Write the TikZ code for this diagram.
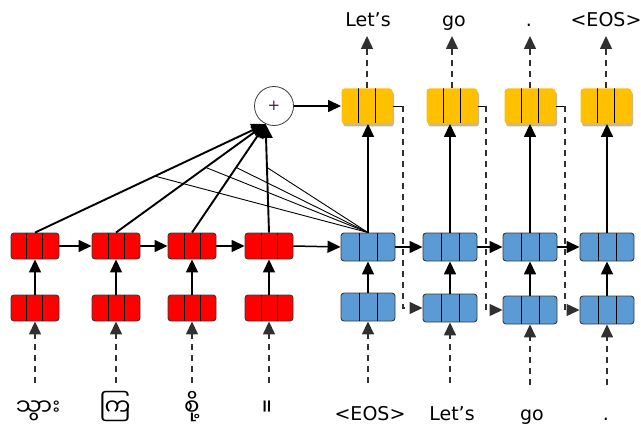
\documentclass[tikz,border=0pt]{standalone}
\usepackage{fontspec}
\setmainfont{DejaVu Sans}
\newfontfamily\myafont[Script=Myanmar]{Noto Sans Myanmar UI}
\usetikzlibrary{arrows.meta,calc,shadows}
\definecolor{boxred}{HTML}{FF0000}
\definecolor{boxblue}{HTML}{5B9BD5}
\definecolor{boxyel}{HTML}{FFC000}
\definecolor{shadowtan}{HTML}{C9B98C}
\definecolor{edgegray}{HTML}{3A3A3A}
\definecolor{dashgray}{HTML}{303030}
\definecolor{plusc}{HTML}{4A1A4A}
\tikzset{
  cellbox/.style={rounded corners=3pt, draw=edgegray, line width=0.9pt, inner sep=0pt,
    path picture={
      \draw[black,line width=1pt]
        ($(path picture bounding box.north west)!1/3!(path picture bounding box.north east)$) --
        ($(path picture bounding box.south west)!1/3!(path picture bounding box.south east)$);
      \draw[black,line width=1pt]
        ($(path picture bounding box.north west)!2/3!(path picture bounding box.north east)$) --
        ($(path picture bounding box.south west)!2/3!(path picture bounding box.south east)$);}},
  redbox/.style={cellbox, fill=boxred, minimum width=48pt, minimum height=26pt},
  bluebox/.style={cellbox, fill=boxblue, minimum width=54pt, minimum height=28pt},
  yelbox/.style={cellbox, draw=none, fill=boxyel, minimum width=51pt, minimum height=35pt,
    drop shadow={shadow xshift=1.5pt, shadow yshift=-3pt, fill=shadowtan, opacity=1}},
  arr/.style={-{Triangle[length=13pt,width=12pt]}, line width=1.5pt, draw=black},
  dasharr/.style={arr, dash pattern=on 6pt off 5pt, draw=dashgray},
  attline/.style={-{Triangle[length=14pt,width=13pt]}, line width=1.9pt},
  thinline/.style={line width=0.9pt},
  lab/.style={font=\fontsize{19}{19}\selectfont, anchor=base, inner sep=0pt},
  mlab/.style={font=\myafont\fontsize{23}{23}\selectfont, anchor=base, inner sep=0pt},
}
\begin{document}
\begin{tikzpicture}[x=1pt,y=-1pt]
\useasboundingbox (0,0) rectangle (641,428);
% encoder boxes
\node[redbox] (r1t) at (35,246) {};
\node[redbox] (r2t) at (116,246) {};
\node[redbox] (r3t) at (192,246) {};
\node[redbox] (r4t) at (269,246) {};
\node[redbox] (r1b) at (35,308) {};
\node[redbox] (r2b) at (116,308) {};
\node[redbox] (r3b) at (192,308) {};
\node[redbox] (r4b) at (269,308) {};
% decoder boxes
\node[bluebox] (b1t) at (368,247) {};
\node[bluebox] (b2t) at (450,247) {};
\node[bluebox] (b3t) at (530,247) {};
\node[bluebox] (b4t) at (607,247) {};
\node[bluebox] (b1b) at (368,307) {};
\node[bluebox] (b2b) at (450,308) {};
\node[bluebox] (b3b) at (530,310) {};
\node[bluebox] (b4b) at (607,310) {};
% output boxes
\node[yelbox] (y1) at (367,106) {};
\node[yelbox] (y2) at (452,106) {};
\node[yelbox] (y3) at (530,106) {};
\node[yelbox] (y4) at (606,106) {};
% attention sum
\node[circle, draw=edgegray, line width=0.8pt, minimum size=39pt, inner sep=0pt,
      font=\fontsize{15}{15}\selectfont, text=plusc] (att) at (274,106) {+};
\coordinate (P) at (att.245);
% output labels
\node[lab] (o1) at (368,27) {Let’s};
\node[lab] (o2) at (454,27) {go};
\node[lab] (o3) at (529,27) {.};
\node[lab] (o4) at (606,27) {<EOS>};
\coordinate (ot1) at (367,36);
\coordinate (ot2) at (452,36);
\coordinate (ot3) at (530,36);
\coordinate (ot4) at (606,36);
% input labels
\node[mlab] (i1) at (38,415) {သွား};
\node[mlab] (i2) at (115,415) {ကြ};
\node[mlab] (i3) at (192,415) {စို့};
\node[mlab] (i4) at (267,415) {။};
\node[lab] (i5) at (370,420) {<EOS>};
\node[lab] (i6) at (452,420) {Let’s};
\node[lab] (i7) at (532,420) {go};
\node[lab] (i8) at (606,420) {.};
\coordinate (it1) at (35,383);
\coordinate (it2) at (116,383);
\coordinate (it3) at (192,383);
\coordinate (it4) at (269,383);
\coordinate (it5) at (368,383);
\coordinate (it6) at (450,383);
\coordinate (it7) at (530,385);
\coordinate (it8) at (607,385);
% input dashed arrows
\draw[dasharr] (it1) -- (r1b.south);
\draw[dasharr] (it2) -- (r2b.south);
\draw[dasharr] (it3) -- (r3b.south);
\draw[dasharr] (it4) -- (r4b.south);
\draw[dasharr] (it5) -- (b1b.south);
\draw[dasharr] (it6) -- (b2b.south);
\draw[dasharr] (it7) -- (b3b.south);
\draw[dasharr] (it8) -- (b4b.south);
% vertical solid arrows
\draw[arr] (r1b.north) -- (r1t.south);
\draw[arr] (r2b.north) -- (r2t.south);
\draw[arr] (r3b.north) -- (r3t.south);
\draw[arr] (r4b.north) -- (r4t.south);
\draw[arr] (b1b.north) -- (b1t.south);
\draw[arr] (b2b.north) -- (b2t.south);
\draw[arr] (b3b.north) -- (b3t.south);
\draw[arr] (b4b.north) -- (b4t.south);
\draw[arr] (b1t.north) -- (b1t.north |- y1.south);
\draw[arr] (b2t.north) -- (b2t.north |- y2.south);
\draw[arr] (b3t.north) -- (b3t.north |- y3.south);
\draw[arr] (b4t.north) -- (b4t.north |- y4.south);
% horizontal arrows
\draw[arr] (r1t.east) -- (r2t.west);
\draw[arr] (r2t.east) -- (r3t.west);
\draw[arr] (r3t.east) -- (r4t.west);
\draw[arr] (r4t.east) -- (b1t.west);
\draw[arr] (b1t.east) -- (b2t.west);
\draw[arr] (b2t.east) -- (b3t.west);
\draw[arr] (b3t.east) -- (b4t.west);
\draw[arr] (att.east) -- (y1.west);
% output dashed arrows
\draw[dasharr] (y1.north) -- (ot1);
\draw[dasharr] (y2.north) -- (ot2);
\draw[dasharr] (y3.north) -- (ot3);
\draw[dasharr] (y4.north) -- (ot4);
% feedback connectors
\coordinate (c1) at (403,106);
\coordinate (c2) at (486,106);
\coordinate (c3) at (565,106);
\draw[thinline] (y1.east) -- (c1);
\draw[thinline] (y2.east) -- (c2);
\draw[thinline] (y3.east) -- (c3);
\draw[dasharr, line width=1.2pt, dash pattern=on 6pt off 5pt] (c1) |- (b2b.west);
\draw[dasharr, line width=1.2pt, dash pattern=on 6pt off 5pt] (c2) |- (b3b.west);
\draw[dasharr, line width=1.2pt, dash pattern=on 6pt off 5pt] (c3) |- (b4b.west);
% attention
\draw[thinline] (b1t.north) -- ($(r1t.north)!0.52!(P)$);
\draw[thinline] (b1t.north) -- ($(r2t.north)!0.6!(P)$);
\draw[thinline] (b1t.north) -- ($(r3t.north)!0.6!(P)$);
\draw[thinline] (b1t.north) -- ($(r4t.north)!0.6!(P)$);
\draw[attline] (r1t.north) -- (P);
\draw[attline] (r2t.north) -- (P);
\draw[attline] (r3t.north) -- (P);
\draw[attline] (r4t.north) -- (P);
\end{tikzpicture}
\end{document}
